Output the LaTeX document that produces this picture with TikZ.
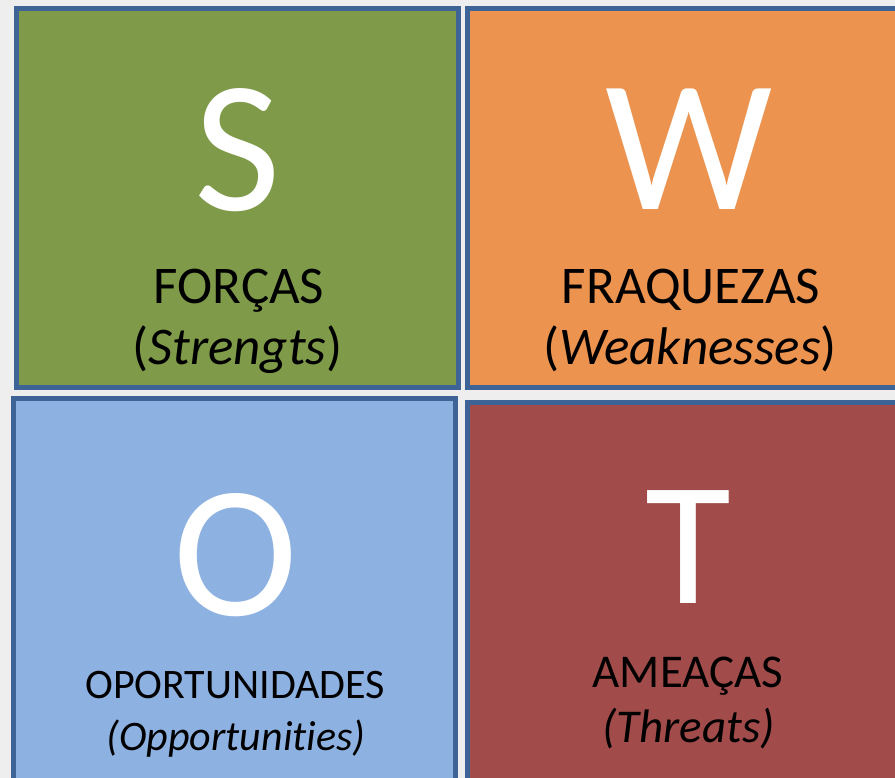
\documentclass[tikz,border=0pt]{standalone}
\usepackage{fontspec}
\setmainfont[Ligatures=NoCommon]{Carlito}
\definecolor{bgcol}{HTML}{EEEEEE}
\definecolor{bordercol}{HTML}{3E6497}
\definecolor{sgreen}{HTML}{7F9A48}
\definecolor{worange}{HTML}{EB934F}
\definecolor{oblue}{HTML}{8DB1E1}
\definecolor{tred}{HTML}{A14B4A}
\tikzset{
  quad/.style={rectangle, draw=bordercol, line width=5pt, inner sep=0pt},
  bigletter/.style={anchor=base, text=white, inner sep=0pt},
  toplabel/.style={anchor=base, text=black, inner sep=0pt, font=\fontsize{53}{60}\selectfont},
  botlabel/.style={anchor=base, text=black, inner sep=0pt, font=\fontsize{42}{50}\selectfont},
  tlabel/.style={anchor=base, text=black, inner sep=0pt, font=\fontsize{47}{55}\selectfont},
}
\begin{document}
\begin{tikzpicture}[x=1pt,y=-1pt]
\path[use as bounding box, fill=bgcol] (0,0) rectangle (895,778);
\begin{scope}
\clip (0,0) rectangle (895,778);
\node[quad, fill=sgreen, minimum width=442pt, minimum height=379pt] (boxS) at (237.5,198) {};
\node[quad, fill=worange, minimum width=432.5pt, minimum height=379pt] (boxW) at (683.75,198) {};
\node[quad, fill=oblue, minimum width=442pt, minimum height=382pt] (boxO) at (234.5,589) {};
\node[quad, fill=tred, minimum width=432.5pt, minimum height=377.5pt] (boxT) at (683.75,591.25) {};
\end{scope}
\node[bigletter, font=\fontsize{188}{200}\selectfont] (letS) at (238,211) {S};
\node[bigletter, font=\fontsize{188}{200}\selectfont] (letW) at (689,210) {W};
\node[bigletter, font=\fontsize{188}{200}\selectfont] (letO) at (235.5,615) {O};
\node[bigletter, font=\fontsize{176}{180}\selectfont] (letT) at (688.5,603) {T};
\node[toplabel] (labS1) at (239,304) {FORÇAS};
\node[toplabel] (labS2) at (237.5,364) {(\textit{Strengts})};
\node[toplabel] (labW1) at (691,304) {FRAQUEZAS};
\node[toplabel] (labW2) at (690,364) {(\textit{Weaknesses})};
\node[botlabel] (labO1) at (235,698) {OPORTUNIDADES};
\node[botlabel] (labO2) at (236,750) {\textit{(Opportunities)}};
\node[tlabel] (labT1) at (688,687) {AMEAÇAS};
\node[tlabel] (labT2) at (688.5,742) {\textit{(Threats)}};
\end{tikzpicture}
\end{document}
